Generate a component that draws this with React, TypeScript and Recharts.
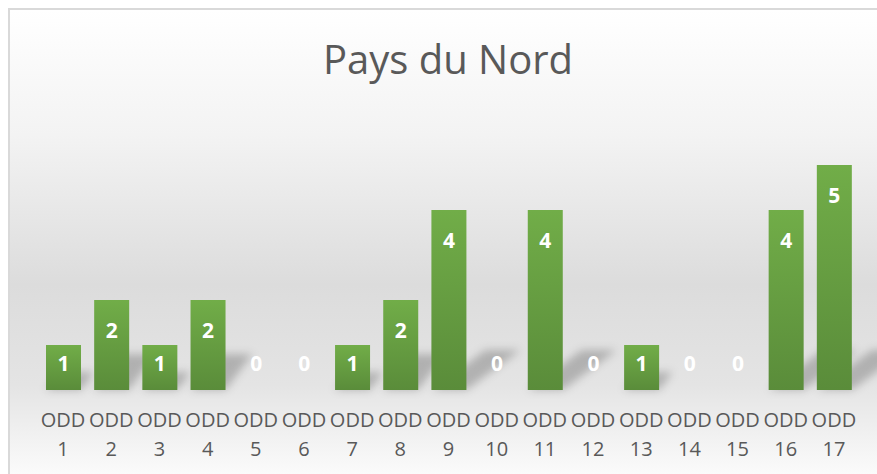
import React from "react";
import { BarChart, Bar, XAxis, YAxis } from "recharts";

const categories = ["ODD 1", "ODD 2", "ODD 3", "ODD 4", "ODD 5", "ODD 6", "ODD 7", "ODD 8", "ODD 9", "ODD 10", "ODD 11", "ODD 12", "ODD 13", "ODD 14", "ODD 15", "ODD 16", "ODD 17"];
const values = [1, 2, 1, 2, 0, 0, 1, 2, 4, 0, 4, 0, 1, 0, 0, 4, 5];
const title = "Pays du Nord";

const data = categories.map((name, i) => ({ name, value: values[i] }));

const FONT = "'Open Sans', 'Noto Sans', sans-serif";

function CategoryTick(props: any) {
  const { x, y, payload } = props;
  const [word, num] = String(payload.value).split(" ");
  return (
    <g transform={`translate(${x},${y})`}>
      <text textAnchor="middle" fill="#595959" fontSize={20} fontFamily={FONT}>
        <tspan x={0} y={29}>{word}</tspan>
        <tspan x={0} y={58}>{num}</tspan>
      </text>
    </g>
  );
}

function BarWithLabel(props: any) {
  const { x, y, width, fill } = props;
  const height = props.height || 0;
  const value = props.value ?? props.payload?.value;
  const base = y + height;
  const cy = Math.min(y + 30, base - 27);
  const dx = Math.min(height * 0.3, 55);
  const dy = Math.min(height * 0.4, 40);
  return (
    <g>
      {height > 0 && (
        <polygon
          points={`${x},${base} ${x + width},${base} ${x + width + dx},${base - dy} ${x + dx},${base - dy}`}
          fill="rgba(0,0,0,0.22)"
          filter="url(#shadowBlur)"
        />
      )}
      {height > 0 && <rect x={x} y={y} width={width} height={height} fill={fill} />}
      <text
        x={x + width / 2}
        y={cy}
        textAnchor="middle"
        dominantBaseline="central"
        fill="#ffffff"
        fontWeight="bold"
        fontSize={21}
        fontFamily={FONT}
      >
        {value}
      </text>
    </g>
  );
}

export default function App() {
  return (
    <div style={{ position: "absolute", left: 0, top: 0, width: 877, height: 474, overflow: "hidden", background: "#ffffff" }}>
      <div
        style={{
          position: "absolute",
          left: 8,
          top: 8,
          width: 900,
          height: 500,
          borderLeft: "2px solid #d9d9d9",
          borderTop: "2px solid #d9d9d9",
          background: "linear-gradient(to bottom, #ffffff 0%, #f3f3f3 25%, #dcdcdc 55%, #e4e4e4 75%, #fbfbfb 93%)",
        }}
      />
      <svg width={877} height={474} style={{ position: "absolute", left: 0, top: 0 }}>
        <text x={448} y={74} textAnchor="middle" fill="#595959" fontSize={40} fontFamily={FONT}>
          {title}
        </text>
      </svg>
      <div style={{ position: "absolute", left: 0, top: 0 }}>
        <BarChart width={877} height={474} data={data} margin={{ top: 120, right: 19, left: 39, bottom: 0 }} barSize={35}>
          <defs>
            <linearGradient id="greenBar" x1="0" y1="0" x2="0" y2="1">
              <stop offset="0%" stopColor="#71ad48" />
              <stop offset="100%" stopColor="#5a8c3a" />
            </linearGradient>
            <filter id="shadowBlur" x="-50%" y="-50%" width="200%" height="200%">
              <feGaussianBlur stdDeviation="4" />
            </filter>
          </defs>
          <XAxis
            dataKey="name"
            height={84}
            interval={0}
            axisLine={false}
            tickLine={false}
            tick={<CategoryTick />}
          />
          <YAxis hide domain={[0, 6]} />
          <Bar dataKey="value" fill="url(#greenBar)" isAnimationActive={false} shape={<BarWithLabel />} />
        </BarChart>
      </div>
    </div>
  );
}
